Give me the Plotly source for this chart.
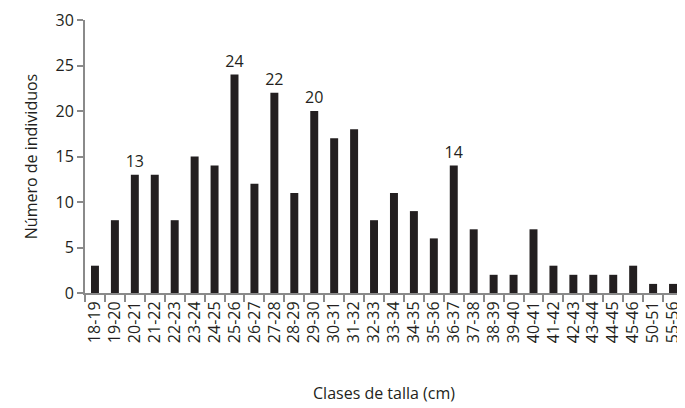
import plotly.graph_objects as go

# Clases de talla y número de individuos
clases = [
    "18-19", "19-20", "20-21", "21-22", "22-23", "23-24", "24-25", "25-26",
    "26-27", "27-28", "28-29", "29-30", "30-31", "31-32", "32-33", "33-34",
    "34-35", "35-36", "36-37", "37-38", "38-39", "39-40", "40-41", "41-42",
    "42-43", "43-44", "44-45", "45-46", "50-51", "55-56",
]
individuos = [
    3, 8, 13, 13, 8, 15, 14, 24, 12, 22, 11, 20, 17, 18, 8,
    11, 9, 6, 14, 7, 2, 2, 7, 3, 2, 2, 2, 3, 1, 1,
]
etiquetas = ["13" if c == "20-21" else "24" if c == "25-26" else
             "22" if c == "27-28" else "20" if c == "29-30" else
             "14" if c == "36-37" else "" for c in clases]

AXIS = "#8a8a8a"
FONT = "Open Sans, Liberation Sans, sans-serif"

fig = go.Figure(
    go.Bar(
        x=clases,
        y=individuos,
        text=etiquetas,
        textposition="outside",
        constraintext="none",
        textfont=dict(size=16, color="#231f20"),
        cliponaxis=False,
        width=0.4,
        marker=dict(color="#231f20", line=dict(width=0)),
    )
)
fig.update_layout(
    width=677,
    height=400,
    paper_bgcolor="white",
    plot_bgcolor="white",
    font=dict(family=FONT, color="#231f20", size=15),
    margin=dict(l=77, r=2, t=12, b=115),
    showlegend=False,
    xaxis=dict(
        title=dict(text="Clases de talla (cm)", standoff=46, font=dict(size=16)),
        tickangle=-90,
        ticks="outside",
        tickson="boundaries",
        ticklen=7,
        tickcolor=AXIS,
        tickwidth=2,
        showline=True,
        linecolor=AXIS,
        linewidth=2,
        showgrid=False,
        tickfont=dict(size=16),
    ),
    yaxis=dict(
        title=dict(text="Número de individuos", standoff=14, font=dict(size=16)),
        range=[0, 30],
        dtick=5,
        ticks="outside",
        ticklen=6,
        tickcolor=AXIS,
        tickwidth=2,
        showline=True,
        linecolor=AXIS,
        linewidth=2,
        showgrid=False,
        zeroline=False,
        tickfont=dict(size=16),
    ),
)
fig.write_html("out.html")
